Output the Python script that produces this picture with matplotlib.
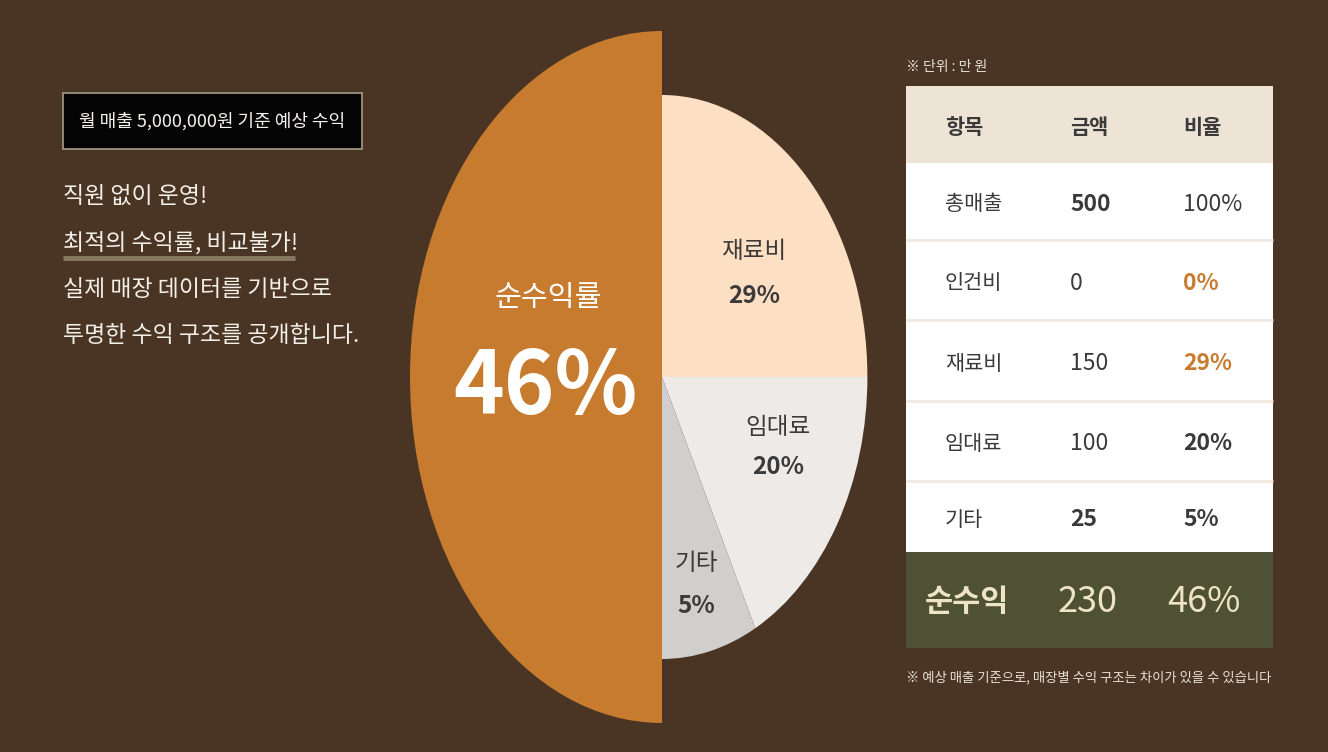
import matplotlib
matplotlib.use("Agg")
import matplotlib.pyplot as plt
from matplotlib.patches import Rectangle

plt.rcParams['font.family'] = ['Noto Sans CJK KR', 'DejaVu Sans']

# =======================
# 데이터
# =======================
pie_labels = ['순수익률', '재료비', '임대료', '기타']
pie_pct = [46, 29, 20, 5]
# 그림에서 읽은 조각 크기(도)
pie_span = [180, 90, 63, 27]

items = ['총매출', '인건비', '재료비', '임대료', '기타']
amounts = [500, 0, 150, 100, 25]
ratios = [100, 0, 29, 20, 5]
net_label = '순수익'
net_amount = 230
net_ratio = 46

headline = '월 매출 5,000,000원 기준 예상 수익'
intro = ['직원 없이 운영!', '최적의 수익률, 비교불가!',
         '실제 매장 데이터를 기반으로', '투명한 수익 구조를 공개합니다.']
unit_note = '※ 단위 : 만 원'
foot_note = '※ 예상 매출 기준으로, 매장별 수익 구조는 차이가 있을 수 있습니다'

# =======================
# 색상
# =======================
BG = '#4A3525'
ORANGE = '#C77B2F'
PEACH = '#FDDFC3'
LIGHT = '#EDEAE7'
GRAY = '#D1CFCD'
DARK = '#3A3A3A'
HEAD = '#EDE4D6'
OLIVE = '#4E5134'
CREAM = '#EEE3C4'

fig = plt.figure(figsize=(13.28, 7.52), dpi=100)
fig.patch.set_facecolor(BG)

# 파이 (가로로 눌린 타원)
W, H = 1328, 752
cx, cy = 662, 377
rx, ry = 252, 346
axp = fig.add_axes([(cx - rx) / W, (H - cy - ry) / H, 2 * rx / W, 2 * ry / H])
axp.pie([pie_span[0] / 360], normalize=False, startangle=90, radius=1.0,
        colors=[ORANGE], wedgeprops=dict(linewidth=0))
axp.pie([s / 360 for s in pie_span[1:]], normalize=False, startangle=90,
        counterclock=False, radius=282 / 346,
        colors=[PEACH, LIGHT, GRAY], wedgeprops=dict(linewidth=0))
axp.set_aspect('auto')
axp.set_xlim(-1, 1)
axp.set_ylim(-1, 1)
axp.axis('off')

# 오버레이 (픽셀 좌표)
ax = fig.add_axes([0, 0, 1, 1])
ax.set_xlim(0, W)
ax.set_ylim(H, 0)
ax.axis('off')
ax.patch.set_alpha(0)

# 파이 라벨
ax.text(548, 298, pie_labels[0], color='white', fontsize=21,
        ha='center', va='center')
ax.text(545, 389, f'{pie_pct[0]}%', color='white', fontsize=62,
        fontweight='bold', ha='center', va='center')
label_pos = [(754, 251, 296), (778, 428, 467), (696, 563, 606)]
for (x, y1, y2), lab, p in zip(label_pos, pie_labels[1:], pie_pct[1:]):
    ax.text(x, y1, lab, color=DARK, fontsize=17, ha='center', va='center')
    ax.text(x, y2, f'{p}%', color=DARK, fontsize=17.5, fontweight='bold',
            ha='center', va='center')

# 왼쪽 텍스트
ax.add_patch(Rectangle((63, 93), 299, 56, facecolor='#050505',
                       edgecolor='#A59A8C', linewidth=1.2))
ax.text(212, 121, headline, color='#F5F2EE', fontsize=13,
        ha='center', va='center')
for i, line in enumerate(intro):
    ax.text(63, 196 + i * 46.5, line, color='#F3EFE9', fontsize=16.5,
            ha='left', va='center')
ax.plot([63, 295], [258, 258], color='#8F8068', linewidth=3.5,
        solid_capstyle='butt', alpha=0.9)

# 표
tx0, tx1 = 906, 1273
ax.text(tx0, 67, unit_note, color='#E8E0D4', fontsize=10,
        ha='left', va='center')
ax.add_patch(Rectangle((tx0, 86), tx1 - tx0, 77, facecolor=HEAD,
                       edgecolor='none'))
row_edges = [163, 240, 320, 401, 481, 552]
ax.add_patch(Rectangle((tx0, 163), tx1 - tx0, 552 - 163,
                       facecolor='white', edgecolor='none'))
for y in row_edges[1:-1]:
    ax.plot([tx0, tx1], [y, y], color='#F1E8DE', linewidth=2,
            solid_capstyle='butt')
ax.add_patch(Rectangle((tx0, 552), tx1 - tx0, 96, facecolor=OLIVE,
                       edgecolor='none'))

col_x = [945, 1070, 1183]
for x, h in zip(col_x, ['항목', '금액', '비율']):
    ax.text(x, 128, h, color=DARK, fontsize=15, fontweight='bold',
            ha='left', va='center')

amount_bold = [True, False, False, False, True]
ratio_style = [('normal', DARK), ('bold', ORANGE), ('bold', ORANGE),
               ('bold', DARK), ('bold', DARK)]
for i, (it, a, r) in enumerate(zip(items, amounts, ratios)):
    y = (row_edges[i] + row_edges[i + 1]) / 2 + 3
    ax.text(col_x[0], y, it, color=DARK, fontsize=15, ha='left', va='center')
    ax.text(col_x[1], y, f'{a}', color=DARK, fontsize=16.5,
            fontweight='bold' if amount_bold[i] else 'normal',
            ha='left', va='center')
    w, c = ratio_style[i]
    ax.text(col_x[2], y, f'{r}%', color=c, fontsize=16.5, fontweight=w,
            ha='left', va='center')

ax.text(925, 602, net_label, color=CREAM, fontsize=22, fontweight='bold',
        ha='left', va='center')
ax.text(1088, 602, f'{net_amount}', color=CREAM, fontsize=26,
        ha='center', va='center')
ax.text(1204, 602, f'{net_ratio}%', color=CREAM, fontsize=26,
        ha='center', va='center')

ax.text(tx0, 677, foot_note, color='#E8E0D4', fontsize=9.6,
        ha='left', va='center')

fig.savefig('out.png', dpi=100, facecolor=BG)
